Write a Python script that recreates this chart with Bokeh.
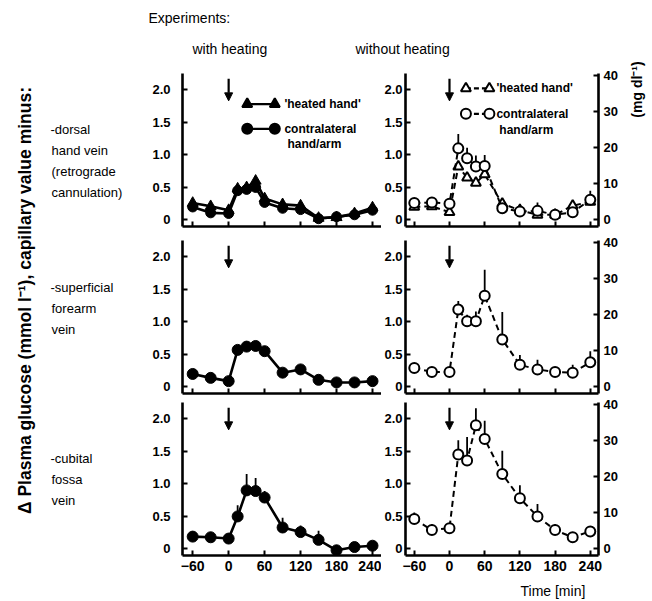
import numpy as np
from bokeh.plotting import figure
from bokeh.models import Range1d, LinearAxis, FixedTicker, Arrow, NormalHead
from bokeh.layouts import row, column
from bokeh.embed import file_html
from bokeh.resources import INLINE
from bokeh.core.properties import value

# ---------------- data ----------------
times = [-60, -30, 0, 15, 30, 45, 60, 90, 120, 150, 180, 210, 240]

# with heating
dorsal_heat_heated = [0.26, 0.21, 0.15, 0.48, 0.50, 0.60, 0.33, 0.24, 0.22, 0.03, 0.04, 0.10, 0.19]
dorsal_heat_heated_err = [0.04, 0.03, 0.03, 0.04, 0.05, 0.06, 0.05, 0.07, 0.04, 0.04, 0.05, 0.03, 0.04]
dorsal_heat_contra = [0.20, 0.11, 0.10, 0.45, 0.47, 0.50, 0.27, 0.18, 0.16, 0.02, 0.05, 0.08, 0.15]
superficial_heat = [0.20, 0.14, 0.09, 0.57, 0.62, 0.63, 0.55, 0.22, 0.27, 0.11, 0.07, 0.07, 0.09]
superficial_heat_err = [0.0, 0.0, 0.0, 0.04, 0.06, 0.07, 0.03, 0.05, 0.03, 0.0, 0.0, 0.0, 0.0]
cubital_heat = [0.19, 0.18, 0.16, 0.50, 0.90, 0.89, 0.79, 0.33, 0.26, 0.14, -0.02, 0.03, 0.05]
cubital_heat_err = [0.0, 0.0, 0.0, 0.17, 0.25, 0.20, 0.10, 0.15, 0.10, 0.14, 0.0, 0.0, 0.0]

# without heating
dorsal_noheat_heated = [0.20, 0.21, 0.12, 0.82, 0.65, 0.57, 0.70, 0.25, 0.15, 0.08, 0.08, 0.22, 0.28]
dorsal_noheat_contra = [0.26, 0.27, 0.25, 1.10, 0.95, 0.82, 0.83, 0.18, 0.13, 0.14, 0.08, 0.12, 0.31]
dorsal_noheat_contra_err = [0.03, 0.03, 0.05, 0.22, 0.16, 0.17, 0.17, 0.10, 0.12, 0.13, 0.05, 0.12, 0.14]
superficial_noheat = [0.29, 0.23, 0.23, 1.19, 1.01, 1.01, 1.40, 0.73, 0.34, 0.27, 0.23, 0.22, 0.38]
superficial_noheat_err = [0.0, 0.0, 0.0, 0.13, 0.10, 0.15, 0.40, 0.42, 0.15, 0.15, 0.0, 0.12, 0.17]
cubital_noheat = [0.46, 0.29, 0.32, 1.45, 1.36, 1.90, 1.69, 1.15, 0.78, 0.50, 0.29, 0.18, 0.27]
cubital_noheat_err = [0.10, 0.09, 0.0, 0.22, 0.36, 0.26, 0.28, 0.36, 0.20, 0.19, 0.09, 0.0, 0.0]

x_ticks = [-60, 0, 60, 120, 180, 240]
y_ticks = [0, 0.5, 1.0, 1.5, 2.0]
y_tick_labels = ["0", "0.5", "1.0", "1.5", "2.0"]
mg_ticks = [0, 10, 20, 30, 40]
MMOL_TO_MG = 18.0

injection_time = 0
arrow_top, arrow_bottom = 2.17, 1.83

row_labels = [["-dorsal", " hand vein", " (retrograde", " cannulation)"],
              ["-superficial", " forearm", " vein"],
              ["-cubital", " fossa", " vein"]]
legend_labels = ["'heated hand'", "contralateral", "hand/arm"]

# ---------------- style ----------------
FONT = "Liberation Sans"
Y0, Y1 = -0.10, 2.25
XL = (-77, 255)
XR = (-75, 254)


def text_fig(x0, x1, y0, y1):
    f = figure(width=x1 - x0, height=y1 - y0, x_range=Range1d(x0, x1),
               y_range=Range1d(y1, y0), output_backend="svg", toolbar_location=None,
               x_axis_type=None, y_axis_type=None, min_border=0)
    f.grid.visible = False
    f.outline_line_color = None
    return f


def panel(side, height, top, bottom, show_x):
    if side == "L":
        p = figure(width=241, height=height, x_range=Range1d(*XL), y_range=Range1d(Y0, Y1),
                   output_backend="svg", toolbar_location=None,
                   min_border_left=42, min_border_right=0,
                   min_border_top=top, min_border_bottom=bottom)
    else:
        p = figure(width=241, height=height, x_range=Range1d(*XR), y_range=Range1d(Y0, Y1),
                   output_backend="svg", toolbar_location=None,
                   min_border_left=20, min_border_right=24,
                   min_border_top=top, min_border_bottom=bottom)
        p.extra_y_ranges = {"mg": Range1d(Y0 * MMOL_TO_MG, Y1 * MMOL_TO_MG)}
        ax = LinearAxis(y_range_name="mg", ticker=FixedTicker(ticks=mg_ticks))
        p.add_layout(ax, "right")
    p.grid.visible = False
    p.outline_line_color = None
    p.xaxis.ticker = FixedTicker(ticks=x_ticks)
    p.yaxis[0].ticker = FixedTicker(ticks=y_ticks)
    p.yaxis[0].major_label_overrides = {t: l for t, l in zip(y_ticks, y_tick_labels)}
    for ax in p.axis:
        ax.axis_line_width = 2.6
        ax.major_tick_line_width = 2
        ax.major_tick_in = 5
        ax.major_tick_out = 0
        ax.minor_tick_line_color = None
        ax.major_label_text_font = FONT
        ax.major_label_text_font_style = "bold"
        ax.major_label_text_color = "black"
    p.yaxis.major_label_text_font_size = "13px"
    p.yaxis[0].major_label_standoff = 12 if side == "L" else 3
    if side == "R":
        p.yaxis[1].major_label_standoff = 5
        p.yaxis[1].major_label_text_font_size = "13px"
    if show_x:
        p.xaxis.major_label_text_font_size = "14px"
        p.xaxis.major_label_standoff = 5
    else:
        p.xaxis.major_label_text_font_size = "0px"
        p.xaxis.major_label_text_color = None
        p.xaxis.major_label_standoff = 0
    p.add_layout(Arrow(end=NormalHead(size=8, fill_color="black", line_color="black", line_width=1),
                       x_start=injection_time, y_start=arrow_top,
                       x_end=injection_time, y_end=arrow_bottom,
                       line_width=2.2, line_color="black"))
    return p


def errbars(p, y, err):
    ye = [a + b for a, b in zip(y, err)]
    p.segment(x0=times, y0=y, x1=times, y1=ye, line_width=1.8, line_color="black")


def heated_series(p, y, marker, size):
    p.line(times, y, line_width=2.6, line_color="black")
    p.scatter(times, y, marker=marker, size=size, fill_color="black", line_color="black")


def unheated_series(p, y, marker, size):
    p.line(times, y, line_width=2, line_color="black", line_dash="6 4")
    p.scatter(times, y, marker=marker, size=size, fill_color="white", line_color="black", line_width=2)


# ---------------- panels ----------------
pL1 = panel("L", 164, 8, 3, False)
pR1 = panel("R", 164, 8, 3, False)
pL2 = panel("L", 166, 11, 2, False)
pR2 = panel("R", 166, 11, 2, False)
pL3 = panel("L", 180, 7, 20, True)
pR3 = panel("R", 180, 7, 20, True)

# row 1 left
errbars(pL1, dorsal_heat_heated, dorsal_heat_heated_err)
heated_series(pL1, dorsal_heat_contra, "circle", 10)
heated_series(pL1, dorsal_heat_heated, "triangle", 11)
# row 1 right
errbars(pR1, dorsal_noheat_contra, dorsal_noheat_contra_err)
unheated_series(pR1, dorsal_noheat_heated, "triangle", 10)
unheated_series(pR1, dorsal_noheat_contra, "circle", 10)
# row 2
errbars(pL2, superficial_heat, superficial_heat_err)
heated_series(pL2, superficial_heat, "circle", 11)
errbars(pR2, superficial_noheat, superficial_noheat_err)
unheated_series(pR2, superficial_noheat, "circle", 10)
# row 3
errbars(pL3, cubital_heat, cubital_heat_err)
heated_series(pL3, cubital_heat, "circle", 11)
errbars(pR3, cubital_noheat, cubital_noheat_err)
unheated_series(pR3, cubital_noheat, "circle", 10)

# legends (drawn sample + text)
def legend(p, xa, xb, xt, ys, filled):
    fill = "black" if filled else "white"
    dash = "solid" if filled else "5 3"
    for yy, mk in zip(ys[:2], ["triangle", "circle"]):
        p.line([xa, xb], [yy, yy], line_width=2.2, line_color="black", line_dash=dash)
        p.scatter([xa, xb], [yy, yy], marker=mk, size=10, fill_color=fill,
                  line_color="black", line_width=2)
    p.text(x=[xt, xt, xt + 5], y=[ys[0], ys[1], ys[2]], text=legend_labels,
           text_font=value(FONT), text_font_size="12px", text_font_style="bold",
           text_baseline="middle", text_align="left", text_color="black")

legend(pL1, 31, 77, 93, [1.78, 1.40, 1.17], True)
legend(pR1, 28, 68, 80, [2.02, 1.63, 1.38], False)

# ---------------- text figures ----------------
left = text_fig(0, 140, 0, 599)
left.text(x=[24], y=[300], text=["\u0394 Plasma glucose (mmol l\u207b\u00b9), capillary value minus:"],
          angle=np.pi / 2, text_font=value(FONT), text_font_style="bold", text_font_size="17.5px",
          text_align="center", text_baseline="middle", text_color="black")
row_y0 = [129, 287, 458]
for lines, y0 in zip(row_labels, row_y0):
    ys = [y0 + 21 * i for i in range(len(lines))]
    xs = [50 if i == 0 else 51 for i in range(len(lines))]
    left.text(x=xs, y=ys, text=lines, text_font=value(FONT), text_font_size="13px",
              text_align="left", text_baseline="middle", text_color="black")

header = text_fig(140, 622, 0, 65)
header.text(x=[148, 192, 355], y=[17, 48, 48],
            text=["Experiments:", "with  heating", "without  heating"],
            text_font=value(FONT), text_font_size="14px",
            text_align="left", text_baseline="middle", text_color="black")

footer = text_fig(140, 622, 575, 599)
footer.text(x=[520], y=[590], text=["Time  [min]"], text_font=value(FONT),
            text_font_size="14px", text_align="left", text_baseline="middle", text_color="black")

right = text_fig(622, 650, 0, 240)
right.text(x=[636], y=[89], text=["(mg dl\u207b\u00b9)"], angle=np.pi / 2,
           text_font=value(FONT), text_font_style="bold", text_font_size="14px",
           text_align="center", text_baseline="middle", text_color="black")

middle = column(header, row(pL1, pR1), row(pL2, pR2), row(pL3, pR3), footer)
layout = row(left, middle, right)

open("out.html", "w").write(file_html(layout, INLINE))
